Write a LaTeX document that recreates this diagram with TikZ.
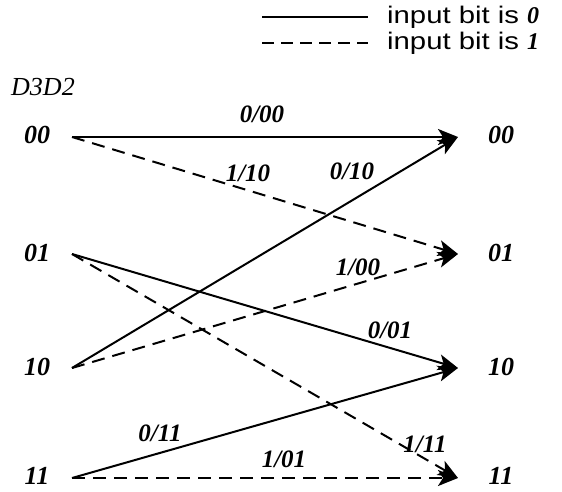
\documentclass[tikz,border=0pt]{standalone}
\usepackage{fontspec}
\setmainfont{Liberation Serif}
\newfontfamily\legendfont[FakeStretch=1.22]{Liberation Sans}
\usetikzlibrary{arrows.meta}
\begin{document}
\begin{tikzpicture}[x=1pt,y=-1pt,
  state/.style={font=\fontsize{26}{29}\selectfont\bfseries\itshape, inner sep=0pt},
  elabel/.style={font=\fontsize{25}{28}\selectfont\bfseries\itshape, inner sep=0pt},
  legtext/.style={font=\fontsize{24}{26}\selectfont\legendfont, anchor=west, inner sep=0pt},
  tr/.style={line width=2pt, -{Stealth[length=20pt,width=16pt,inset=5pt]}},
  zero/.style={tr},
  one/.style={tr, dash pattern=on 13pt off 8pt},
  legline/.style={line width=1.4pt}]
\useasboundingbox (0,0) rectangle (562,492);
% legend
\coordinate (l1a) at (262,17); \coordinate (l1b) at (368,17);
\coordinate (l2a) at (262,43); \coordinate (l2b) at (368,43);
\draw[legline] (l1a) -- (l1b);
\draw[legline, dash pattern=on 12pt off 7pt] (l2a) -- (l2b);
\node[legtext] (t1) at (387,17) {input bit is {\rmfamily\bfseries\itshape 0}};
\node[legtext] (t2) at (387,43) {input bit is {\rmfamily\bfseries\itshape 1}};
% header
\node[font=\fontsize{26}{29}\selectfont\itshape, inner sep=0pt] (hdr) at (43,87) {D3D2};
% left states
\node[state] (L0) at (37,135) {00};
\node[state] (L1) at (37,253) {01};
\node[state] (L2) at (37,367) {10};
\node[state] (L3) at (37,476) {11};
% right states
\node[state] (R0) at (501,135) {00};
\node[state] (R1) at (501,253) {01};
\node[state] (R2) at (501,367) {10};
\node[state] (R3) at (501,476) {11};
% anchor coordinates
\coordinate (a0) at (72,137); \coordinate (b0) at (458,137);
\coordinate (a1) at (72,254); \coordinate (b1) at (458,254);
\coordinate (a2) at (72,368); \coordinate (b2) at (458,368);
\coordinate (a3) at (72,478); \coordinate (b3) at (458,478);
% transitions
\draw[zero] (a0) -- (b0);
\draw[one]  (a0) -- (b1);
\draw[zero] (a2) -- (b0);
\draw[one]  (a2) -- (b1);
\draw[zero] (a1) -- (b2);
\draw[one]  (a1) -- (b3);
\draw[zero] (a3) -- (b2);
\draw[one]  (a3) -- (b3);
% labels
\node[elabel] (e1) at (262,114) {0/00};
\node[elabel] (e2) at (248,173) {1/10};
\node[elabel] (e3) at (352,171) {0/10};
\node[elabel] (e4) at (358,267) {1/00};
\node[elabel] (e5) at (390,330) {0/01};
\node[elabel] (e6) at (160,433) {0/11};
\node[elabel] (e7) at (425,444) {1/11};
\node[elabel] (e8) at (284,459) {1/01};
\end{tikzpicture}
\end{document}
